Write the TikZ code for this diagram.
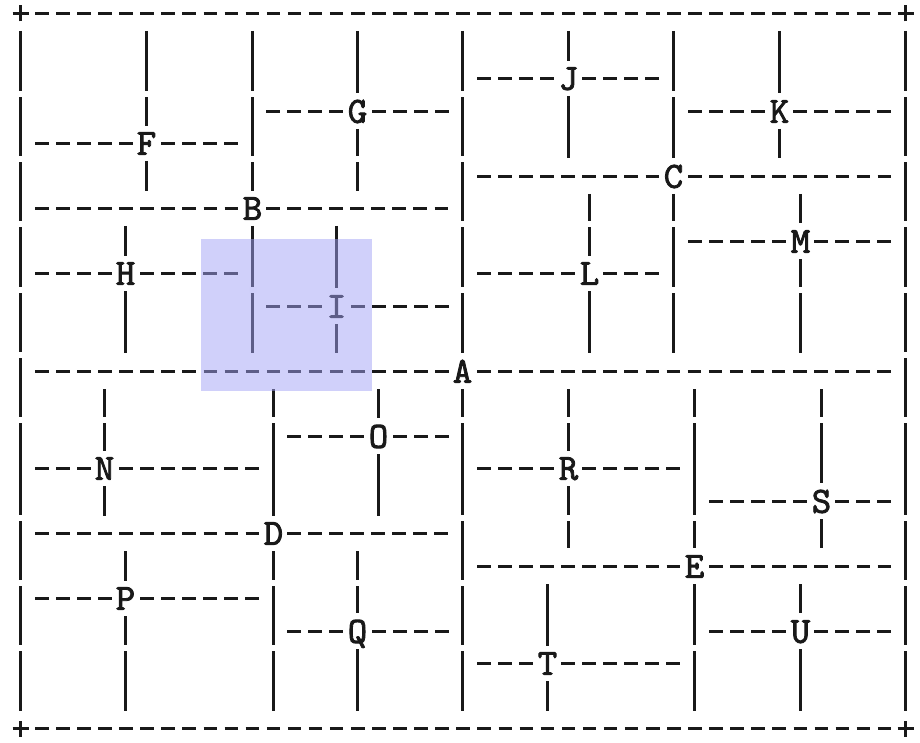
\documentclass[tikz,border=0pt]{standalone}
\usepackage{fontspec}
\newfontfamily\letfont[FakeBold=2.2]{lmmono10-regular.otf}
\definecolor{ink}{RGB}{25,25,25}
\definecolor{boxblue}{RGB}{161,161,245}
\newcommand\CX[1]{(round(20+21.07*(#1))+0.5)}
\newcommand\RY[1]{(round(13+32.5*(#1))+0.5)}
\tikzset{
  hline/.style={draw=ink, line width=3.6pt, dash pattern=on 13.5pt off 7.57pt},
  vline/.style={draw=ink, line width=3.6pt},
  plusline/.style={draw=ink, line width=3.4pt},
  letter/.style={text=ink, inner sep=0pt, font=\letfont\fontsize{37}{37}\selectfont, text height=22.6pt, text depth=0pt},
  hilite/.style={fill=boxblue, fill opacity=0.5}
}
% horizontal run of '-' : row, first col, last col
\newcommand\hrun[3]{\draw[hline] ({\CX{#2-0.5}+3.5},{\RY{#1}}) -- ({\CX{#3+0.5}-3.5},{\RY{#1}});}
% vertical run of '|' : col, first row, last row
\newcommand\vrun[3]{%
  \draw[vline] ({\CX{#1}},{\RY{#2-0.5}+1.5}) -- ({\CX{#1}},{\RY{#3+0.5}-1.5});
  \foreach \b in {2,4,6,8,10,12,15,17,19}{%
    \ifnum\b<#3\relax\ifnum\b>\numexpr#2-1\relax
      \fill[white] ({\CX{#1}-4},{\RY{\b+0.5}-3}) rectangle ({\CX{#1}+4},{\RY{\b+0.5}+3});
    \fi\fi}%
}
\newcommand\corner[3]{\coordinate (#1) at ({\CX{#2}},{\RY{#3}});
  \draw[plusline] ([xshift=-8pt]#1) -- ([xshift=8pt]#1) ([yshift=-8pt]#1) -- ([yshift=8pt]#1);}
\newcommand\lab[3]{\node[letter] (#1) at ({\CX{#2}},{\RY{#3}}) {#1};}
\begin{document}
\begin{tikzpicture}[x=1pt,y=-1pt]
\useasboundingbox (0,0) rectangle (920,743);
% frame
\corner{tl}{0}{0}\corner{tr}{42}{0}\corner{bl}{0}{22}\corner{br}{42}{22}
\hrun{0}{1}{41}\hrun{22}{1}{41}
\vrun{0}{1}{21}\vrun{42}{1}{21}
% A
\lab{A}{21}{11}
\hrun{11}{1}{20}\hrun{11}{22}{41}\vrun{21}{1}{10}\vrun{21}{12}{21}
% B
\lab{B}{11}{6}
\hrun{6}{1}{10}\hrun{6}{12}{20}\vrun{11}{1}{5}\vrun{11}{7}{10}
% F
\lab{F}{6}{4}
\hrun{4}{1}{5}\hrun{4}{7}{10}\vrun{6}{1}{3}\vrun{6}{5}{5}
% G
\lab{G}{16}{3}
\hrun{3}{12}{15}\hrun{3}{17}{20}\vrun{16}{1}{2}\vrun{16}{4}{5}
% H
\lab{H}{5}{8}
\hrun{8}{1}{4}\hrun{8}{6}{10}\vrun{5}{7}{7}\vrun{5}{9}{10}
% I
\lab{I}{15}{9}
\hrun{9}{12}{14}\hrun{9}{16}{20}\vrun{15}{7}{8}\vrun{15}{10}{10}
% C
\lab{C}{31}{5}
\hrun{5}{22}{30}\hrun{5}{32}{41}\vrun{31}{1}{4}\vrun{31}{6}{10}
% J
\lab{J}{26}{2}
\hrun{2}{22}{25}\hrun{2}{27}{30}\vrun{26}{1}{1}\vrun{26}{3}{4}
% K
\lab{K}{36}{3}
\hrun{3}{32}{35}\hrun{3}{37}{41}\vrun{36}{1}{2}\vrun{36}{4}{4}
% L
\lab{L}{27}{8}
\hrun{8}{22}{26}\hrun{8}{28}{30}\vrun{27}{6}{7}\vrun{27}{9}{10}
% M
\lab{M}{37}{7}
\hrun{7}{32}{36}\hrun{7}{38}{41}\vrun{37}{6}{6}\vrun{37}{8}{10}
% D
\lab{D}{12}{16}
\hrun{16}{1}{11}\hrun{16}{13}{20}\vrun{12}{12}{15}\vrun{12}{17}{21}
% N
\lab{N}{4}{14}
\hrun{14}{1}{3}\hrun{14}{5}{11}\vrun{4}{12}{13}\vrun{4}{15}{15}
% O
\lab{O}{17}{13}
\hrun{13}{13}{16}\hrun{13}{18}{20}\vrun{17}{12}{12}\vrun{17}{14}{15}
% P
\lab{P}{5}{18}
\hrun{18}{1}{4}\hrun{18}{6}{11}\vrun{5}{17}{17}\vrun{5}{19}{21}
% Q
\lab{Q}{16}{19}
\hrun{19}{13}{15}\hrun{19}{17}{20}\vrun{16}{17}{18}\vrun{16}{20}{21}
% E
\lab{E}{32}{17}
\hrun{17}{22}{31}\hrun{17}{33}{41}\vrun{32}{12}{16}\vrun{32}{18}{21}
% R
\lab{R}{26}{14}
\hrun{14}{22}{25}\hrun{14}{27}{31}\vrun{26}{12}{13}\vrun{26}{15}{16}
% S
\lab{S}{38}{15}
\hrun{15}{33}{37}\hrun{15}{39}{41}\vrun{38}{12}{14}\vrun{38}{16}{16}
% T
\lab{T}{25}{20}
\hrun{20}{22}{24}\hrun{20}{26}{31}\vrun{25}{18}{19}\vrun{25}{21}{21}
% U
\lab{U}{37}{19}
\hrun{19}{33}{36}\hrun{19}{38}{41}\vrun{37}{18}{18}\vrun{37}{20}{21}
% highlighted region
\fill[hilite] (201,239) rectangle (372,391);
\end{tikzpicture}
\end{document}
